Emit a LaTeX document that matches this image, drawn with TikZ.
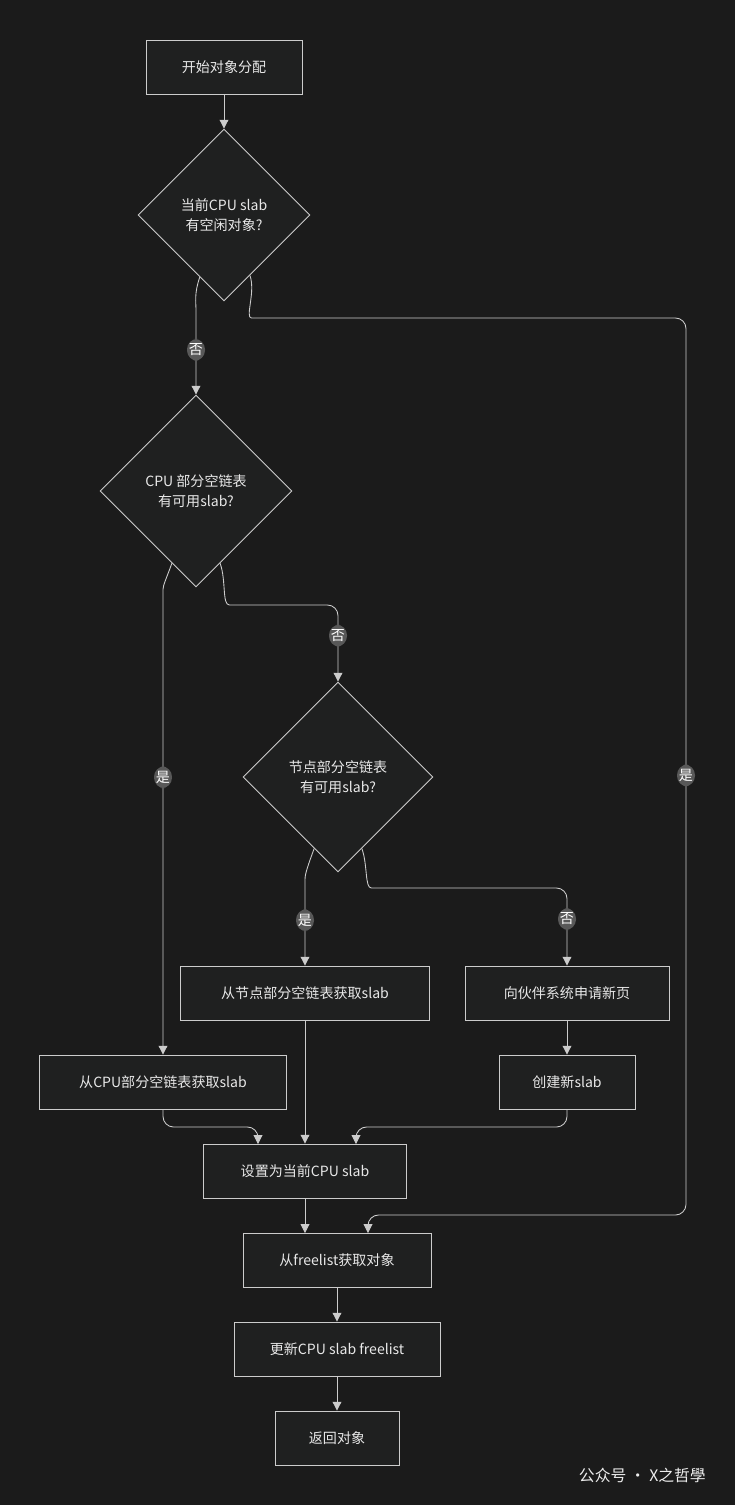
\documentclass[tikz,border=0pt]{standalone}
\usepackage{fontspec}
\setmainfont{Noto Sans CJK SC}
\usepackage{tikz}
\usetikzlibrary{arrows.meta,positioning,calc,shapes.geometric}
\definecolor{bgcol}{HTML}{1B1B1B}
\definecolor{boxfill}{HTML}{1F2020}
\definecolor{linecol}{HTML}{CCCCCC}
\definecolor{txtcol}{HTML}{E8E8E8}
\definecolor{lblfill}{HTML}{585858}
\begin{document}
\begin{tikzpicture}[
  x=0.02cm, y=-0.02cm,
  box/.style={draw=linecol, fill=boxfill, text=txtcol, minimum height=1.08cm,
    font=\fontsize{8}{10}\selectfont, line width=0.5pt},
  dec/.style={diamond, draw=linecol, fill=boxfill, text=txtcol, aspect=1, inner sep=0pt,
    align=center, font=\fontsize{8}{11}\selectfont, line width=0.5pt},
  arr/.style={draw=linecol, line width=0.5pt, -{Triangle[length=5pt,width=5pt]}, rounded corners=6pt},
  lbl/.style={rectangle, fill=lblfill, text=white, inner sep=0pt, minimum width=0.36cm,
    minimum height=0.44cm, font=\fontsize{8}{9}\selectfont},
]
  \fill[bgcol] (0,0) rectangle (735,1505);
  \useasboundingbox (0,0) rectangle (735,1505);

  % Decisions
  \node[box, minimum width=3.12cm] (start) at (224,67) {开始对象分配};
  \node[dec, minimum width=3.44cm, minimum height=3.44cm] (cpu) at (224,215) {当前CPU slab\\有空闲对象?};
  \node[dec, minimum width=3.84cm, minimum height=3.84cm] (cpupart) at (196,491) {CPU 部分空链表\\有可用slab?};
  \node[dec, minimum width=3.80cm, minimum height=3.80cm] (nodepart) at (338,777) {节点部分空链表\\有可用slab?};

  % Actions
  \node[box, minimum width=4.98cm] (fromnode) at (305,993) {从节点部分空链表获取slab};
  \node[box, minimum width=4.08cm] (buddy) at (567,993) {向伙伴系统申请新页};
  \node[box, minimum width=4.94cm] (fromcpu) at (163,1082) {从CPU部分空链表获取slab};
  \node[box, minimum width=2.72cm] (newslab) at (567,1082) {创建新slab};
  \node[box, minimum width=4.06cm] (setcpu) at (305,1171) {设置为当前CPU slab};
  \node[box, minimum width=3.76cm] (getobj) at (337,1260) {从freelist获取对象};
  \node[box, minimum width=4.12cm] (update) at (337,1349) {更新CPU slab freelist};
  \node[box, minimum width=2.48cm] (ret) at (337,1438) {返回对象};

  % Connectors
  \draw[arr] (start) -- (cpu);
  \draw[arr] ($(cpu.south)!0.28!(cpu.west)$) to[out=250,in=90] (196,320) -- node[lbl, pos=0.4]{否} (cpupart.north);
  \draw[arr] ($(cpu.south)!0.3!(cpu.east)$) to[out=290,in=180] (262,318) -- (686,318)
    -- node[lbl, pos=0.51]{是} (686,1215) -- (368,1215) -- (368,1233);
  \draw[arr] ($(cpupart.south)!0.25!(cpupart.west)$) to[out=250,in=90] (163,600)
    -- node[lbl, pos=0.39]{是} (fromcpu.north);
  \draw[arr] ($(cpupart.south)!0.25!(cpupart.east)$) to[out=290,in=180] (240,605) -- (338,605)
    -- node[lbl, pos=0.4]{否} (nodepart.north);
  \draw[arr] ($(nodepart.south)!0.25!(nodepart.west)$) to[out=250,in=90] (305,890)
    -- node[lbl, pos=0.4]{是} (fromnode.north);
  \draw[arr] ($(nodepart.south)!0.25!(nodepart.east)$) to[out=290,in=180] (382,888) -- (567,888)
    -- node[lbl, pos=0.4]{否} (buddy.north);
  \draw[arr] (buddy) -- (newslab);
  \draw[arr] (fromnode) -- (setcpu);
  \draw[arr] (fromcpu.south) -- (163,1127) -- (258,1127) -- (258,1144);
  \draw[arr] (newslab.south) -- (567,1127) -- (356,1127) -- (356,1144);
  \draw[arr] (setcpu) -- (305,1233);
  \draw[arr] (getobj) -- (update);
  \draw[arr] (update) -- (ret);

  \node[text=txtcol!80, font=\fontsize{9}{10}\selectfont, anchor=east] (mark) at (712,1475) {公众号 · X之哲學};
\end{tikzpicture}
\end{document}
